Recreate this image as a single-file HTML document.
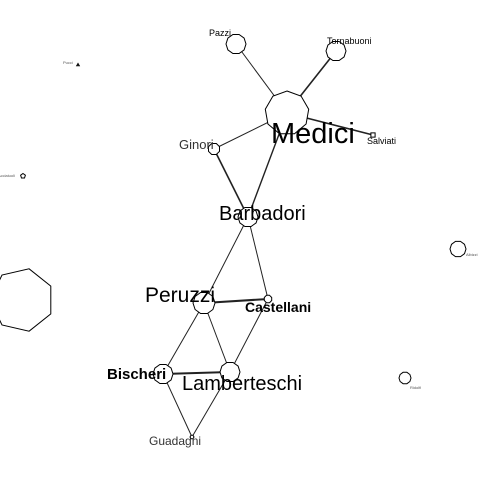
<!DOCTYPE html>
<html><head><meta charset="utf-8"><style>
html,body{margin:0;padding:0;background:#fff;width:480px;height:480px;overflow:hidden}
svg text{font-family:"Liberation Sans",sans-serif;fill:#000}
</style></head><body>
<svg id="g" width="480" height="480" viewBox="0 0 480 480"></svg>
<script>
const names=["Pazzi","Tornabuoni","Medici","Salviati","Ginori","Barbadori","Peruzzi","Castellani","Bischeri","Lamberteschi","Guadagni","Pucci","Acciaiuoli","Isolated","Albizzi","Ridolfi"];
const nodeX=[236,336,287,373,214,248,204,268,163,230,192,78,23,22,458,405];
const nodeY=[44,51,113,135,149,217,303,299,374,372,437,65,176,300,249,378];
const nodeR=[10,10,22,3,6,10,11,4,10,10,2,1.5,2.5,32,8,6];
const nodeSides=[10,10,9,4,8,10,10,8,10,10,6,3,5,7,10,10];
const labels=["Pazzi","Tornabuoni","Medici","Salviati","Ginori","Barbadori","Peruzzi","Castellani","Bischeri","Lamberteschi","Guadagni","Pucci","Acciaiuoli","","Albizzi","Ridolfi"];
const labelX=[209,327,271,367,179,219,145,245,107,182,149,63,-2,0,466,410];
const labelY=[36,44,143,144,149,220,302,312,379,390,445,64,177,0,256,389];
const labelSize=[9,9,29,9,13,20,21,14,15,20,12,4,4,0,4,4];
const labelWeight=["normal","normal","normal","normal","normal","normal","normal","bold","bold","normal","normal","normal","normal","normal","normal","normal"];
const labelColor=["#000","#000","#000","#000","#333","#000","#000","#000","#000","#000","#333","#555","#555","#000","#555","#555"];
const edgeFrom=[0,1,2,2,2,4,5,5,6,6,6,7,8,8,9];
const edgeTo=[2,2,3,4,5,5,6,7,7,8,9,9,9,10,10];
const edgeW=[1,1.6,1.6,1,1.4,1.6,1,1,2,1,1,1,2,1,1];
const ns="http://www.w3.org/2000/svg";
const svg=document.getElementById('g');
for(let i=0;i<edgeFrom.length;i++){
 const l=document.createElementNS(ns,'line');
 l.setAttribute('x1',nodeX[edgeFrom[i]]);l.setAttribute('y1',nodeY[edgeFrom[i]]);
 l.setAttribute('x2',nodeX[edgeTo[i]]);l.setAttribute('y2',nodeY[edgeTo[i]]);
 l.setAttribute('stroke','#222');l.setAttribute('stroke-width',edgeW[i]);
 
 
 svg.appendChild(l);
}
for(let i=0;i<names.length;i++){
 const p=document.createElementNS(ns,'polygon');
 let pts=[];
 const n=nodeSides[i];
 const start=(n===7)?Math.PI:(-Math.PI/2+(n%2?0:Math.PI/n));
 for(let k=0;k<n;k++){const a=start+2*Math.PI*k/n;pts.push((nodeX[i]+nodeR[i]*Math.cos(a)).toFixed(1)+','+(nodeY[i]+nodeR[i]*Math.sin(a)).toFixed(1));}
 p.setAttribute('points',pts.join(' '));
 p.setAttribute('fill','#fff');p.setAttribute('stroke','#000');p.setAttribute('stroke-width',1);
 
 
 svg.appendChild(p);
}
for(let i=0;i<names.length;i++){
 if(!labels[i])continue;
 const t=document.createElementNS(ns,'text');
 t.setAttribute('x',labelX[i]);t.setAttribute('y',labelY[i]);
 t.setAttribute('font-size',labelSize[i]);t.setAttribute('font-weight',labelWeight[i]);
 t.setAttribute('style','fill:'+labelColor[i]);
 t.textContent=labels[i];
 
 
 svg.appendChild(t);
}
</script>
</body></html>
